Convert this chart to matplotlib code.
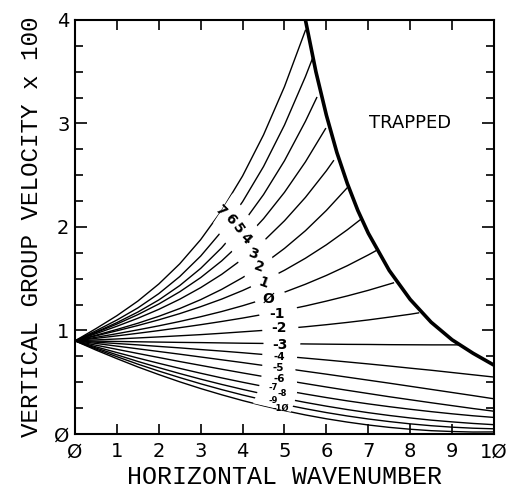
import matplotlib
matplotlib.use('Agg')
import matplotlib.pyplot as plt
import numpy as np
from matplotlib.patches import Polygon

# horizontal wavenumber positions where the curves were read
k_grid = [0, 0.5, 1, 1.5, 2, 2.5, 3, 3.5, 4, 4.5, 5, 5.5,
          6, 6.5, 7, 7.5, 8, 8.5, 9, 9.5, 10]

# vertical group velocity (x 100) for each curve, read on k_grid up to the last point before its end
cg_p7 = [0.9, 1.018, 1.143, 1.284, 1.449, 1.644, 1.878, 2.158, 2.493, 2.890, 3.356]
cg_p6 = [0.9, 0.997, 1.101, 1.218, 1.356, 1.521, 1.719, 1.958, 2.244, 2.584, 2.985, 3.453]
cg_p5 = [0.9, 0.985, 1.076, 1.178, 1.295, 1.434, 1.600, 1.799, 2.034, 2.313, 2.640, 3.021]
cg_p4 = [0.9, 0.979, 1.062, 1.153, 1.256, 1.374, 1.511, 1.672, 1.861, 2.080, 2.335, 2.629]
cg_p3 = [0.9, 0.969, 1.041, 1.118, 1.204, 1.302, 1.414, 1.542, 1.691, 1.863, 2.060, 2.286, 2.543]
cg_p2 = [0.9, 0.954, 1.010, 1.070, 1.137, 1.212, 1.298, 1.397, 1.511, 1.642, 1.793, 1.964, 2.160]
cg_p1 = [0.9, 0.948, 0.997, 1.048, 1.103, 1.163, 1.230, 1.303, 1.386, 1.478, 1.582, 1.698,
         1.828, 1.973]
cg_0 = [0.9, 0.934, 0.969, 1.006, 1.045, 1.087, 1.133, 1.183, 1.239, 1.301, 1.370, 1.447,
        1.532, 1.626, 1.730]
cg_m1 = [0.9, 0.924, 0.948, 0.973, 0.999, 1.027, 1.056, 1.087, 1.120, 1.156, 1.195, 1.237,
         1.284, 1.334, 1.388, 1.448]
cg_m2 = [0.9, 0.909, 0.918, 0.928, 0.938, 0.949, 0.960, 0.973, 0.987, 1.001, 1.018, 1.036,
         1.056, 1.078, 1.102, 1.129, 1.157]
cg_m3 = [0.9, 0.897, 0.894, 0.891, 0.888, 0.885, 0.883, 0.880, 0.877, 0.875, 0.873, 0.870,
         0.868, 0.866, 0.865, 0.863, 0.862, 0.861, 0.861]
cg_m4 = [0.9, 0.887, 0.874, 0.861, 0.846, 0.832, 0.816, 0.801, 0.785, 0.768, 0.751, 0.733,
         0.715, 0.696, 0.677, 0.657, 0.636, 0.616, 0.594, 0.572]
cg_m5 = [0.9, 0.875, 0.849, 0.823, 0.797, 0.771, 0.744, 0.717, 0.690, 0.662, 0.635, 0.606,
         0.578, 0.549, 0.520, 0.491, 0.461, 0.431, 0.401, 0.371]
cg_m6 = [0.9, 0.858, 0.818, 0.778, 0.739, 0.700, 0.663, 0.626, 0.590, 0.555, 0.520, 0.487,
         0.454, 0.422, 0.391, 0.360, 0.331, 0.302, 0.274, 0.246]
cg_m7 = [0.9, 0.842, 0.787, 0.734, 0.683, 0.634, 0.587, 0.542, 0.500, 0.460, 0.422, 0.386,
         0.352, 0.320, 0.291, 0.264, 0.239, 0.216, 0.195, 0.176]
cg_m8 = [0.9, 0.831, 0.765, 0.701, 0.641, 0.584, 0.530, 0.479, 0.431, 0.386, 0.344, 0.305,
         0.269, 0.236, 0.206, 0.179, 0.155, 0.134, 0.117, 0.102]
cg_m9 = [0.9, 0.821, 0.747, 0.675, 0.608, 0.545, 0.485, 0.429, 0.377, 0.329, 0.285, 0.244,
         0.207, 0.174, 0.145, 0.120, 0.098, 0.080, 0.066, 0.056]
cg_m10 = [0.9, 0.811, 0.728, 0.648, 0.574, 0.504, 0.439, 0.379, 0.323, 0.272, 0.226, 0.184,
          0.147, 0.115, 0.087, 0.064, 0.046, 0.032, 0.024, 0.019]

# where each curve stops (trapping boundary or right edge)
end_x = [5.5, 5.67, 5.77, 5.98, 6.17, 6.5, 6.84, 7.18, 7.6, 8.2, 9.14,
         10, 10, 10, 10, 10, 10, 10]
end_y = [3.90, 3.63, 3.25, 2.95, 2.64, 2.38, 2.08, 1.77, 1.46, 1.17, 0.861,
         0.55, 0.34, 0.22, 0.16, 0.09, 0.05, 0.02]

# curve labels and where they sit
curve_labels = ['7', '6', '5', '4', '3', '2', '1', 'Ø', '-1', '-2', '-3',
                '-4', '-5', '-6', '-7', '-8', '-9', '-1Ø']
label_x = [3.47, 3.71, 3.88, 4.07, 4.24, 4.38, 4.50, 4.62, 4.83, 4.86, 4.90,
           4.88, 4.86, 4.88, 4.72, 4.95, 4.72, 4.92]
label_y = [2.16, 2.08, 1.98, 1.89, 1.74, 1.61, 1.46, 1.31, 1.16, 1.02, 0.86,
           0.745, 0.635, 0.53, 0.45, 0.39, 0.325, 0.245]

# break in each curve around its label: last point before, first point after
gap_lo_x = [3.3, 3.45, 3.6, 3.75, 3.9, 4.05, 4.2, 4.3, 4.4, 4.47, 4.5,
            4.47, 4.47, 4.45, 4.4, 4.35, 4.3, 4.25]
gap_lo_y = [2.040, 1.932, 1.842, 1.763, 1.660, 1.523, 1.422, 1.276, 1.149, 1.001, 0.875,
            0.769, 0.664, 0.558, 0.468, 0.399, 0.348, 0.297]
gap_hi_x = [3.76, 3.95, 4.15, 4.35, 4.55, 4.71, 4.86, 5.0, 5.3, 5.33, 5.38,
            5.3, 5.26, 5.3, 5.3, 5.25, 5.2, 5.15]
gap_hi_y = [2.325, 2.213, 2.113, 2.011, 1.881, 1.703, 1.552, 1.370, 1.220, 1.030, 0.871,
            0.740, 0.620, 0.500, 0.400, 0.324, 0.268, 0.213]

# trapping boundary
trap_x = [5.5, 5.75, 6.0, 6.25, 6.5, 6.75, 7.0, 7.5, 8.0, 8.5, 9.0, 9.5, 10.0]
trap_y = [4.0, 3.50, 3.08, 2.72, 2.42, 2.16, 1.94, 1.58, 1.30, 1.08, 0.91, 0.78, 0.665]

x_ticklabels = ['Ø', '1', '2', '3', '4', '5', '6', '7', '8', '9', '1Ø']
y_ticklabels = ['Ø', '1', '2', '3', '4']

curves = [cg_p7, cg_p6, cg_p5, cg_p4, cg_p3, cg_p2, cg_p1, cg_0, cg_m1, cg_m2, cg_m3,
          cg_m4, cg_m5, cg_m6, cg_m7, cg_m8, cg_m9, cg_m10]

fig = plt.figure(figsize=(5.08, 4.92), dpi=100)
ax = fig.add_axes([0.1476, 0.1179, 0.8248, 0.8415])

for yv, xe, ye in zip(curves, end_x, end_y):
    n = len(yv)
    ax.plot(k_grid[:n] + [xe], yv + [ye], color='black', lw=1.0, zorder=2)

# white band that breaks the curves where the labels go
band = list(zip(gap_lo_x, gap_lo_y)) + list(zip(gap_hi_x, gap_hi_y))[::-1]
ax.add_patch(Polygon(band, closed=True, facecolor='white', edgecolor='none', zorder=3))

# label sizes / rotations
rots = [-45, -50, -55, -45, -20, -20, -20, 0, 0, 0, 0, 0, 0, 0, 0, 0, 0, 0]
sizes = [10, 10, 10, 10, 10, 10, 10, 10, 10, 10, 10, 7.5, 7.5, 7.5, 6, 6, 6, 6]
for txt, lx, ly, r, s in zip(curve_labels, label_x, label_y, rots, sizes):
    ax.text(lx, ly, txt, ha='center', va='center', fontsize=s, fontweight='bold',
            rotation=r, zorder=4)

ax.plot(trap_x, trap_y, color='black', lw=2.6, zorder=5, solid_capstyle='butt')
ax.text(8.0, 3.0, 'TRAPPED', ha='center', va='center', fontsize=13)

ax.set_xlim(0, 10)
ax.set_ylim(0, 4)
ax.set_xticks(range(11))
ax.set_xticklabels(x_ticklabels)
ax.set_yticks(range(5))
ax.set_yticklabels(y_ticklabels)
ax.set_yticks(np.arange(0, 4.01, 0.25), minor=True)

ax.tick_params(direction='in', top=True, right=True, which='both', width=1.2)
ax.tick_params(axis='x', which='major', length=7, labelsize=14, pad=6)
ax.tick_params(axis='x', which='minor', length=0)
ax.tick_params(axis='y', which='major', length=8.5, labelsize=14, pad=4)
ax.tick_params(axis='y', which='minor', length=5.5)
for sp in ax.spines.values():
    sp.set_linewidth(1.5)

ax.set_xlabel('HORIZONTAL WAVENUMBER', family='Liberation Mono', fontsize=18, labelpad=3)
ax.set_ylabel('VERTICAL GROUP VELOCITY x 100', family='Liberation Mono', fontsize=17.5,
              labelpad=8)

fig.savefig('out.png', dpi=100)
